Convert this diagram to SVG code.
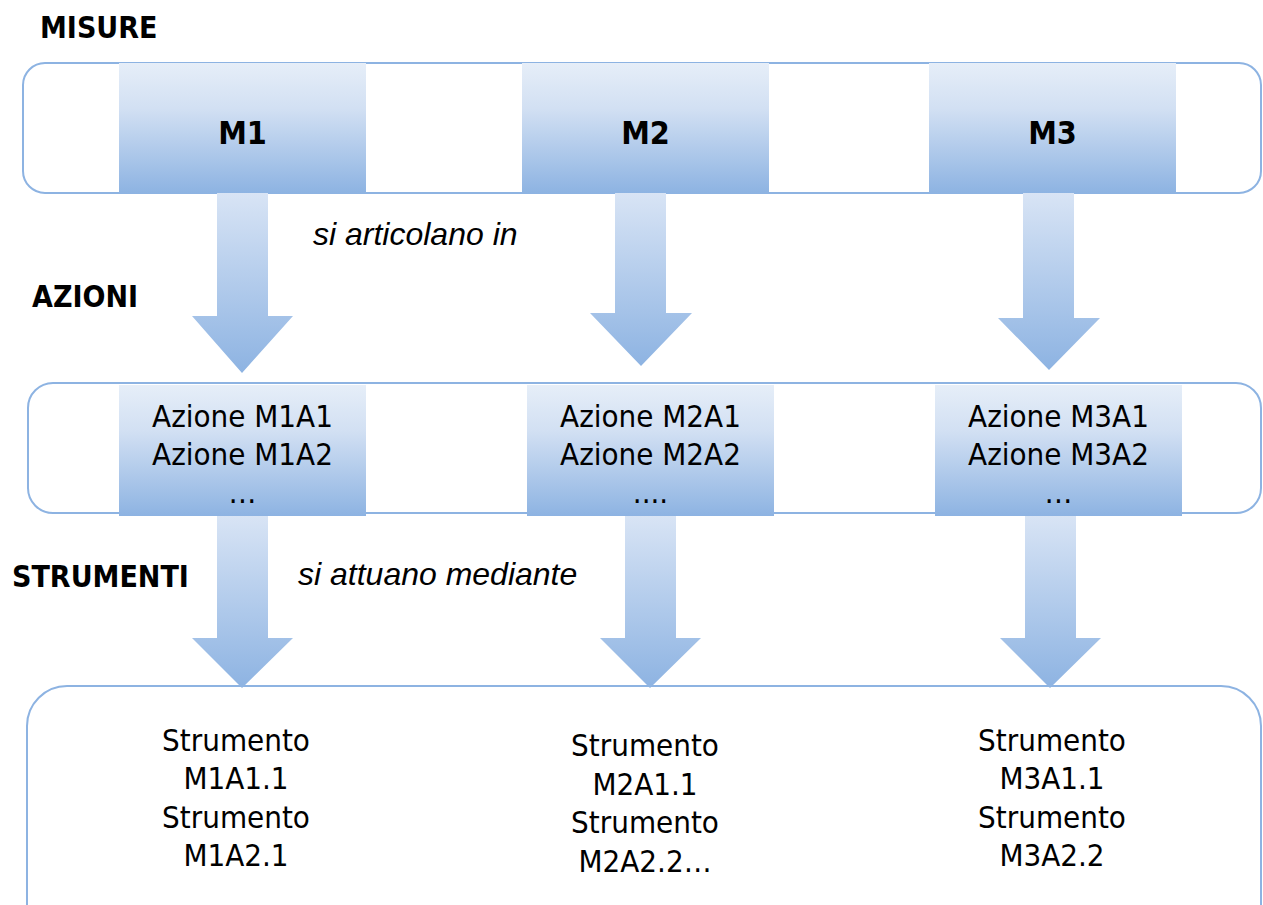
<svg xmlns="http://www.w3.org/2000/svg" width="1263" height="905" viewBox="0 0 1263 905">
  <style>
    .frame { fill: #ffffff; stroke: #8db3e2; stroke-width: 2; }
    .box { fill: url(#boxGrad); }
    .arrow { fill: url(#arrowGrad); }
    .t { font-family: "DejaVu Sans Condensed", "DejaVu Sans", sans-serif; font-stretch: condensed; fill: #000; }
    .big { font-size: 31px; text-anchor: middle; }
    .head { font-size: 32px; font-weight: bold; text-anchor: middle; }
    .lbl { font-size: 30px; font-weight: bold; }
    .it { font-family: "Liberation Sans", Arial, sans-serif; font-style: italic; font-size: 32px; fill: #000; }
  </style>
  <defs>
    <linearGradient id="boxGrad" x1="0" y1="0" x2="0" y2="1">
      <stop offset="0" stop-color="#e6eef8"/>
      <stop offset="0.35" stop-color="#d2e0f3"/>
      <stop offset="1" stop-color="#8db3e2"/>
    </linearGradient>
    <linearGradient id="arrowGrad" x1="0" y1="0" x2="0" y2="1">
      <stop offset="0" stop-color="#d8e4f5"/>
      <stop offset="1" stop-color="#8db3e2"/>
    </linearGradient>
  </defs>

  <rect width="1263" height="905" fill="#ffffff"/>

  <!-- row frames -->
  <g id="frames">
    <rect class="frame" x="23" y="63" width="1238" height="130" rx="22"/>
    <rect class="frame" x="28" y="383" width="1233" height="130" rx="25"/>
    <rect class="frame" x="27" y="686" width="1234" height="260" rx="40"/>
  </g>

  <!-- side labels -->
  <g id="labels">
    <text class="t lbl" x="40" y="38">MISURE</text>
    <text class="t lbl" x="32" y="307">AZIONI</text>
    <text class="t lbl" x="12" y="587">STRUMENTI</text>
    <text class="it" x="313" y="245">si articolano in</text>
    <text class="it" x="298" y="585">si attuano mediante</text>
  </g>

  <!-- measures -->
  <g id="m1">
    <rect class="box" x="119" y="63" width="247" height="130"/>
    <text class="t head" x="242.5" y="144">M1</text>
  </g>
  <g id="m2">
    <rect class="box" x="522" y="63" width="247" height="130"/>
    <text class="t head" x="645.5" y="144">M2</text>
  </g>
  <g id="m3">
    <rect class="box" x="929" y="63" width="247" height="130"/>
    <text class="t head" x="1052.5" y="144">M3</text>
  </g>

  <!-- actions -->
  <g id="a1">
    <rect class="box" x="119" y="385" width="247" height="131"/>
    <text class="t big" x="242.5" y="427">Azione M1A1</text>
    <text class="t big" x="242.5" y="465">Azione M1A2</text>
    <text class="t big" x="242.5" y="503">…</text>
  </g>
  <g id="a2">
    <rect class="box" x="527" y="385" width="247" height="131"/>
    <text class="t big" x="650.5" y="427">Azione M2A1</text>
    <text class="t big" x="650.5" y="465">Azione M2A2</text>
    <text class="t big" x="650.5" y="503">....</text>
  </g>
  <g id="a3">
    <rect class="box" x="935" y="385" width="247" height="131"/>
    <text class="t big" x="1058.5" y="427">Azione M3A1</text>
    <text class="t big" x="1058.5" y="465">Azione M3A2</text>
    <text class="t big" x="1058.5" y="503">…</text>
  </g>

  <!-- instruments -->
  <g id="s1">
    <text class="t big" x="236" y="751">Strumento</text>
    <text class="t big" x="236" y="789">M1A1.1</text>
    <text class="t big" x="236" y="828">Strumento</text>
    <text class="t big" x="236" y="866">M1A2.1</text>
  </g>
  <g id="s2">
    <text class="t big" x="645" y="756">Strumento</text>
    <text class="t big" x="645" y="795">M2A1.1</text>
    <text class="t big" x="645" y="833">Strumento</text>
    <text class="t big" x="645" y="872">M2A2.2…</text>
  </g>
  <g id="s3">
    <text class="t big" x="1052" y="751">Strumento</text>
    <text class="t big" x="1052" y="789">M3A1.1</text>
    <text class="t big" x="1052" y="828">Strumento</text>
    <text class="t big" x="1052" y="866">M3A2.2</text>
  </g>

  <!-- block arrows -->
  <g id="connectors">
    <polygon class="arrow" points="217,193 268,193 268,316 293,316 242,373 192,316 217,316"/>
    <polygon class="arrow" points="615,193 666,193 666,313 692,313 641,366 590,313 615,313"/>
    <polygon class="arrow" points="1023,193 1074,193 1074,318 1100,318 1049,370 998,318 1023,318"/>
    <polygon class="arrow" points="217,516 268,516 268,638 293,638 242,688 192,638 217,638"/>
    <polygon class="arrow" points="625,516 676,516 676,638 701,638 650,688 600,638 625,638"/>
    <polygon class="arrow" points="1025,516 1076,516 1076,638 1101,638 1050,688 1000,638 1025,638"/>
  </g>
</svg>
